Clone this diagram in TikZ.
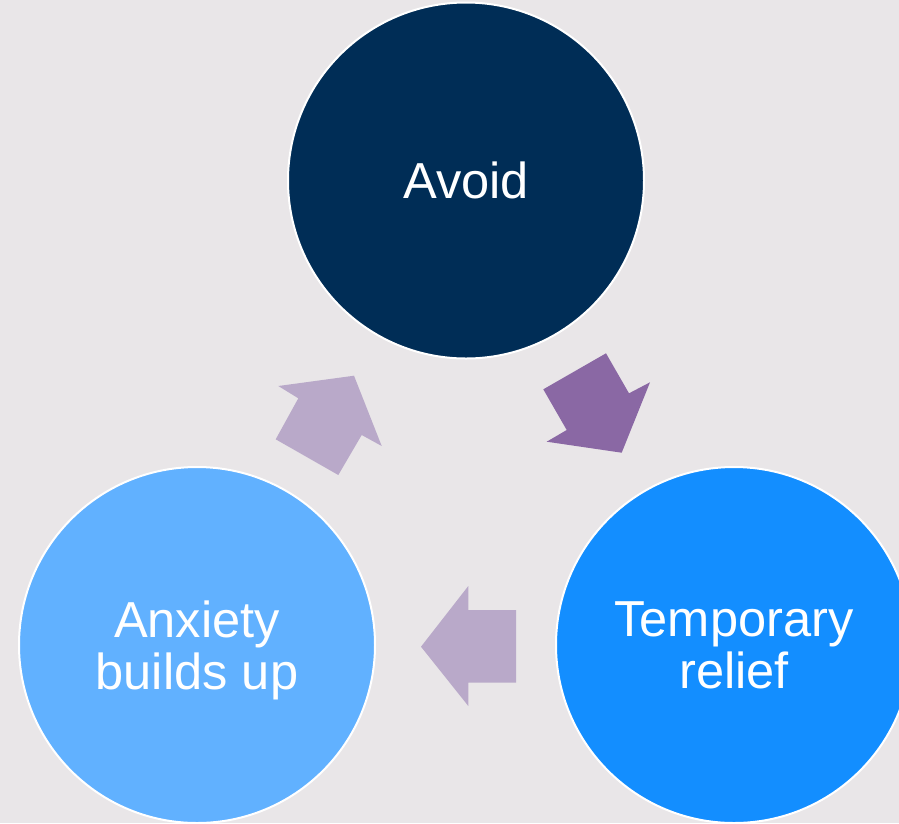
\documentclass[tikz,border=0pt]{standalone}
\usepackage{fontspec}
\setmainfont{Liberation Sans}
\definecolor{bg}{HTML}{E9E6E8}
\definecolor{navy}{HTML}{002D56}
\definecolor{blueA}{HTML}{138EFF}
\definecolor{blueB}{HTML}{61B1FF}
\definecolor{purpD}{HTML}{8A68A4}
\definecolor{purpL}{HTML}{B9A9C9}
\tikzset{
  stage/.style={circle, draw=white, line width=2pt, minimum size=356pt, inner sep=0pt,
    text=white, align=center, font=\fontsize{50.6}{52}\selectfont}
}
\begin{document}
\begin{tikzpicture}[x=1pt,y=-1pt]
\useasboundingbox (0,0) rectangle (899,823);
\fill[bg] (0,0) rectangle (899,823);
\clip (0,0) rectangle (899,823);
\node[stage, fill=navy] (avoid) at (466,180.5) {Avoid};
\node[stage, fill=blueA] (relief) at (734,645) {Temporary\\relief};
\node[stage, fill=blueB] (anx) at (197,645) {Anxiety\\\smash{builds up}};
% arrows
\fill[purpD] (543.3,389.3) -- (606,353.3) -- (629,393.3) -- (650,382.3) -- (621.7,452.7) -- (546.7,441.7) -- (566.7,430) -- cycle;
\fill[purpL] (516,610) -- (468.3,610) -- (468.3,586) -- (421,646.7) -- (468.3,706) -- (468.3,682.7) -- (516,682.7) -- cycle;
\fill[purpL] (275.7,439.3) -- (298.3,398.3) -- (278.3,386) -- (354,375.7) -- (381.7,446) -- (361.7,435) -- (338.3,475) -- cycle;
\end{tikzpicture}
\end{document}
